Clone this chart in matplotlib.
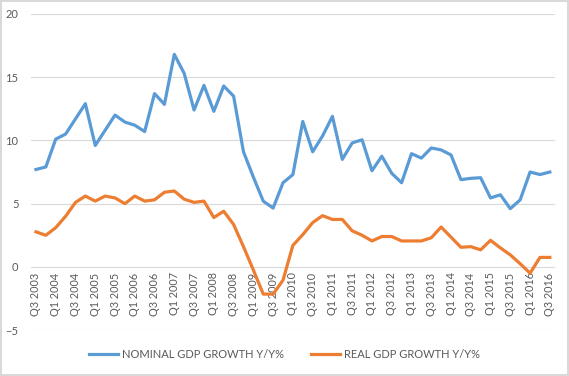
import numpy as np
import matplotlib
matplotlib.use('Agg')
import matplotlib.pyplot as plt

plt.rcParams['font.family'] = ['Lato', 'DejaVu Sans']

# quarters Q3 2003 .. Q3 2016
quarters = []
for yr in range(2003, 2017):
    for q in (1, 2, 3, 4):
        if (yr == 2003 and q < 3) or (yr == 2016 and q > 3):
            continue
        quarters.append('Q%d %d' % (q, yr))

nominal = [7.7, 7.9, 10.1, 10.5, 11.7, 12.9, 9.6, 10.8, 12.0, 11.45,
           11.2, 10.7, 13.7, 12.85, 16.8, 15.3, 12.4, 14.35, 12.3, 14.3,
           13.5, 9.1, 7.1, 5.2, 4.65, 6.65, 7.3, 11.5, 9.1, 10.35,
           11.9, 8.5, 9.8, 10.05, 7.6, 8.75, 7.4, 6.65, 8.95, 8.6,
           9.4, 9.25, 8.85, 6.9, 7.0, 7.05, 5.45, 5.7, 4.6, 5.3,
           7.5, 7.3, 7.5]
real = [2.77, 2.5, 3.1, 4.0, 5.1, 5.6, 5.2, 5.6, 5.45, 5.0,
        5.6, 5.2, 5.3, 5.9, 6.0, 5.35, 5.1, 5.2, 3.9, 4.4,
        3.35, 1.6, -0.25, -2.15, -2.15, -1.05, 1.7, 2.55, 3.5, 4.05,
        3.75, 3.75, 2.85, 2.5, 2.05, 2.4, 2.4, 2.05, 2.05, 2.05,
        2.3, 3.15, 2.35, 1.55, 1.6, 1.35, 2.1, 1.5, 0.95, 0.25,
        -0.5, 0.75, 0.75]

x = np.arange(len(quarters))

fig = plt.figure(figsize=(5.69, 3.76), dpi=100, linewidth=1.5, edgecolor='#d9d9d9')
ax = fig.add_axes([0.0545, 0.122, 0.9205, 0.841])

ax.plot(x, nominal, color='#5B9BD5', lw=2.3, label='NOMINAL GDP GROWTH Y/Y%')
ax.plot(x, real, color='#ED7D31', lw=2.3, label='REAL GDP GROWTH Y/Y%')

ax.set_xlim(-0.5, len(quarters) - 0.5)
ax.set_ylim(-5, 20)
ax.set_yticks([-5, 0, 5, 10, 15, 20])
ax.grid(axis='y', color='#d9d9d9', lw=0.8)
ax.set_axisbelow(True)
for s in ax.spines.values():
    s.set_visible(False)
# category labels sit at the zero line like in Excel
ax.spines['bottom'].set_position(('data', 0))

ax.set_xticks(x[::2])
ax.set_xticklabels(quarters[::2], rotation=90, fontsize=7.8, color='#595959')
ax.tick_params(axis='x', length=0, pad=4)
ax.tick_params(axis='y', length=0, pad=9, labelsize=8, labelcolor='#595959')

fig.legend(loc='center', bbox_to_anchor=(0.5, 0.058), ncol=2, frameon=False,
           fontsize=8, labelcolor='#595959', handlelength=2.6,
           handletextpad=0.3, columnspacing=2.5)

fig.savefig('out.png', dpi=100)
